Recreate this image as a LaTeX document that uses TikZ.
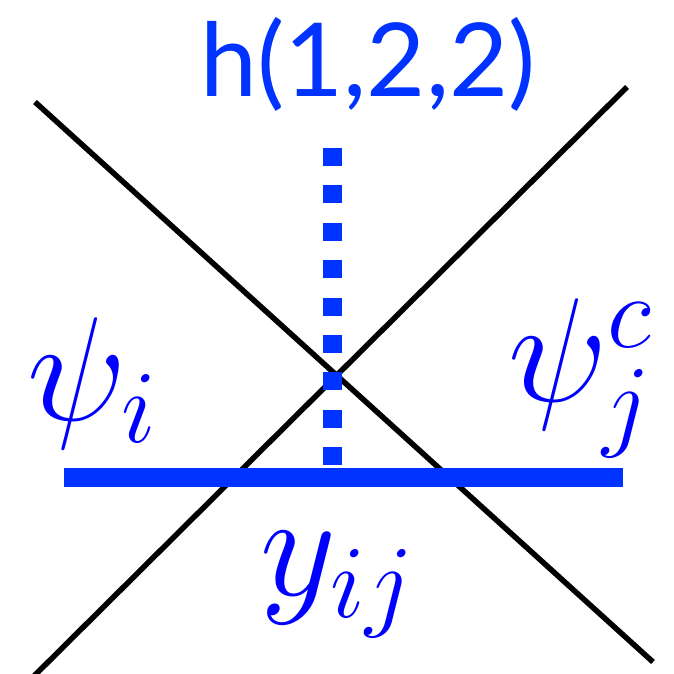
\RequirePackage{fix-cm}
\documentclass[tikz,border=0pt]{standalone}
\usepackage{fontspec}
\newfontfamily\labelfont{Lato}
\usetikzlibrary{positioning}
\definecolor{barblue}{RGB}{0,51,255}
\definecolor{mathblue}{RGB}{0,0,255}
\tikzset{
	cross/.style={line width=5.5pt, black},
	bar/.style={line width=19pt, barblue},
	mathlabel/.style={inner sep=0pt, anchor=base west, text=mathblue, font=\fontsize{148}{148}\selectfont}
}

\begin{document}
\begin{tikzpicture}[x=1pt, y=-1pt]
	\useasboundingbox (0,0) rectangle (674,674);
	% ends of the two crossing lines
	\coordinate (tl) at (35,102);
	\coordinate (br) at (653,662);
	\coordinate (tr) at (627,87);
	\coordinate (bl) at (30,680);
	\draw[cross] (tl) -- (br);
	\draw[cross] (tr) -- (bl);
	% the propagators
	\coordinate (yl) at (64,477.5);
	\coordinate (yr) at (623,477.5);
	\coordinate (htop) at (332.5,148);
	\coordinate (hbot) at (332.5,468);
	\draw[bar] (yl) -- (yr);
	\draw[bar, dash pattern=on 18pt off 19.4pt] (htop) -- (hbot);
	% labels
	\node[inner sep=0pt, anchor=base, text=barblue, font=\labelfont\fontsize{102}{102}\selectfont] (hlabel) at (368,97) {h(1,2,2)};
	\node[mathlabel] (psii) at (27,420) {$\psi_i$};
	\node[mathlabel] (psij) at (508,401) {$\psi_j^c$};
	\node[mathlabel] (yij) at (260,595) {$y_{ij}$};
\end{tikzpicture}
\end{document}
